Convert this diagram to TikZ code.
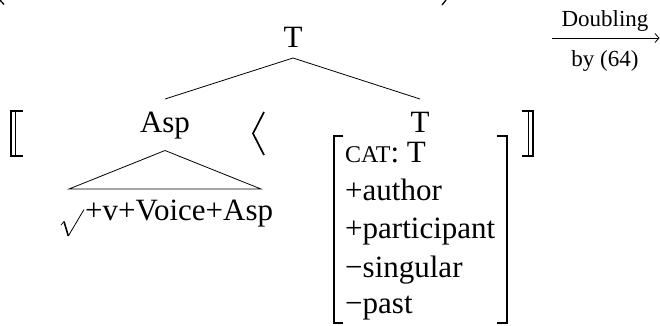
\documentclass[tikz,border=0pt]{standalone}
\usepackage{fontspec}
\setmainfont{Liberation Serif}
\usetikzlibrary{arrows.meta}
\begin{document}
\begin{tikzpicture}[x=1pt,y=-1pt,
  lbl/.style={inner sep=0pt, anchor=base, font=\fontsize{31}{36}\selectfont},
  lblw/.style={lbl, anchor=base west},
  small/.style={inner sep=0pt, anchor=base, font=\fontsize{23}{27}\selectfont},
  branch/.style={line width=0.8pt},
  glyph/.style={line width=1.3pt},
  thinglyph/.style={line width=0.8pt}]
\useasboundingbox (0,0) rectangle (660,325);

% ends of the parentheses from the line above
\draw[glyph] (0,0) -- (4,4.5);
\draw[glyph] (446,0) -- (442,5);

% tree labels
\node[lbl] (Ttop) at (293,47.5) {T};
\node[lbl] (Asp) at (165,132) {Asp};
\node[lbl] (Tright) at (420,132) {T};

% branch ends
\coordinate (apexT) at (293,58);
\coordinate (aspTop) at (165,99);
\coordinate (tTop) at (420,99);
\draw[branch] (aspTop) -- (apexT) -- (tTop);

% triangle over the complex head
\coordinate (triApex) at (165,150.5);
\coordinate (triL) at (69,189);
\coordinate (triR) at (261,189);
\draw[branch] (triL) -- (triApex) -- (triR) -- cycle;

% radical sign before the head
\coordinate (rootA) at (61,225);
\coordinate (rootB) at (64,221.5);
\coordinate (rootC) at (68.3,236);
\coordinate (rootD) at (84,209.5);
\draw[line width=0.7pt, line join=miter] (rootA) -- (rootB);
\draw[line width=1.6pt] (rootB) -- (rootC);
\draw[line width=0.8pt] (rootC) -- (rootD);
\node[lblw] (head) at (85,220) {+v+Voice+Asp};

% semantic brackets
\draw[glyph] (22.5,111) -- (11,111) -- (11,156) -- (22.5,156);
\draw[thinglyph] (15.5,111) -- (15.5,156);
\draw[glyph] (522,111) -- (533,111) -- (533,156) -- (522,156);
\draw[thinglyph] (528,111) -- (528,156);

% angle bracket
\draw[line width=1.7pt, line join=miter] (264,112) -- (253,133.5) -- (264,155);

% feature matrix
\draw[glyph] (343,136) -- (334,136) -- (334,323) -- (343,323);
\draw[glyph] (497,136) -- (507,136) -- (507,323) -- (497,323);
\node[lblw] (cat) at (345,162) {{\fontsize{24}{28}\selectfont CAT}: T};
\node[lblw] (f1) at (345,200) {+author};
\node[lblw] (f2) at (345,238) {+participant};
\node[lblw] (f3) at (345,277) {−singular};
\node[lblw] (f4) at (345,313) {−past};

% rule arrow
\coordinate (arrL) at (552,38);
\coordinate (arrR) at (659.5,38);
\draw[line width=0.8pt, -{Straight Barb[length=4pt,width=9pt]}] (arrL) -- (arrR);
\node[small] (doubling) at (605,26.5) {Doubling};
\node[small] (by) at (605,66) {by (64)};
\end{tikzpicture}
\end{document}
